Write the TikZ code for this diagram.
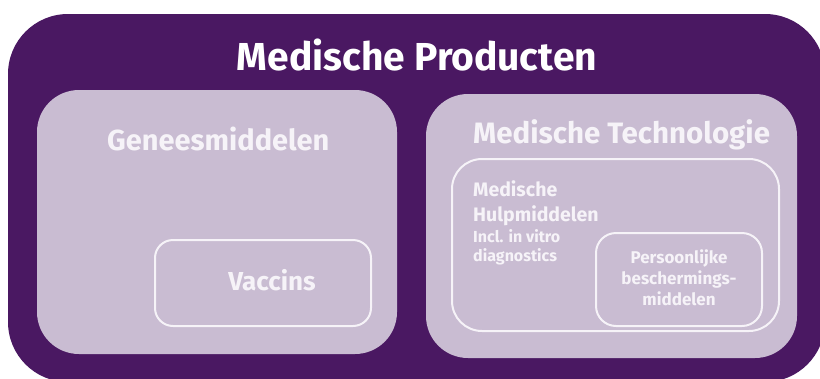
\documentclass[tikz,border=0pt]{standalone}
\usepackage{fontspec}
\setmainfont{Fira Sans}
\definecolor{darkviolet}{RGB}{74,24,98}
\definecolor{lightviolet}{RGB}{201,188,210}
\definecolor{softwhite}{RGB}{246,243,248}
\begin{document}
\begin{tikzpicture}[x=1pt,y=-1pt,
  outerbox/.style={fill=darkviolet, draw=none, rounded corners=60pt, inner sep=0pt},
  panelbox/.style={fill=lightviolet, draw=none, rounded corners=42pt, inner sep=0pt},
  linebox/.style={draw=softwhite, line width=2pt, fill=none, inner sep=0pt},
  lbl/.style={text=softwhite, inner sep=0pt, font=\bfseries},
]
\useasboundingbox (0,0) rectangle (820,378);
\node[outerbox, minimum width=817pt, minimum height=368pt] (outer) at (416.5,198) {};
\node[panelbox, minimum width=360pt, minimum height=264pt] (genees) at (217,222) {};
\node[panelbox, minimum width=371pt, minimum height=264pt] (medtech) at (611.5,226) {};
\node[linebox, rounded corners=30pt, minimum width=327pt, minimum height=172pt] (hulp) at (615.5,245) {};
\node[linebox, rounded corners=20pt, minimum width=166pt, minimum height=93pt] (pbm) at (679,279.5) {};
\node[linebox, rounded corners=18pt, minimum width=216pt, minimum height=86pt] (vacc) at (263,283) {};

\node[lbl, text=white, anchor=base, font=\bfseries\fontsize{39}{44}\selectfont] (title) at (417,70) {Medische Producten};
\node[lbl, anchor=base west, font=\bfseries\fontsize{29}{32}\selectfont] (tgenees) at (107,150) {Geneesmiddelen};
\node[lbl, anchor=base west, font=\bfseries\fontsize{29.5}{32}\selectfont] (tmedtech) at (473,143) {Medische Technologie};
\node[lbl, anchor=base west, align=left, font=\bfseries\fontsize{19.5}{25}\selectfont] (thulp) at (473,221) {Medische\\Hulpmiddelen};
\node[lbl, anchor=base west, align=left, font=\bfseries\fontsize{16}{19}\selectfont] (tincl) at (473,261) {Incl. in vitro\\diagnostics};
\node[lbl, anchor=base, align=center, font=\bfseries\fontsize{17}{21}\selectfont] (tpbm) at (679,305) {Persoonlijke\\beschermings-\\middelen};
\node[lbl, anchor=base, font=\bfseries\fontsize{26}{28}\selectfont] (tvacc) at (272,290) {Vaccins};
\end{tikzpicture}
\end{document}
